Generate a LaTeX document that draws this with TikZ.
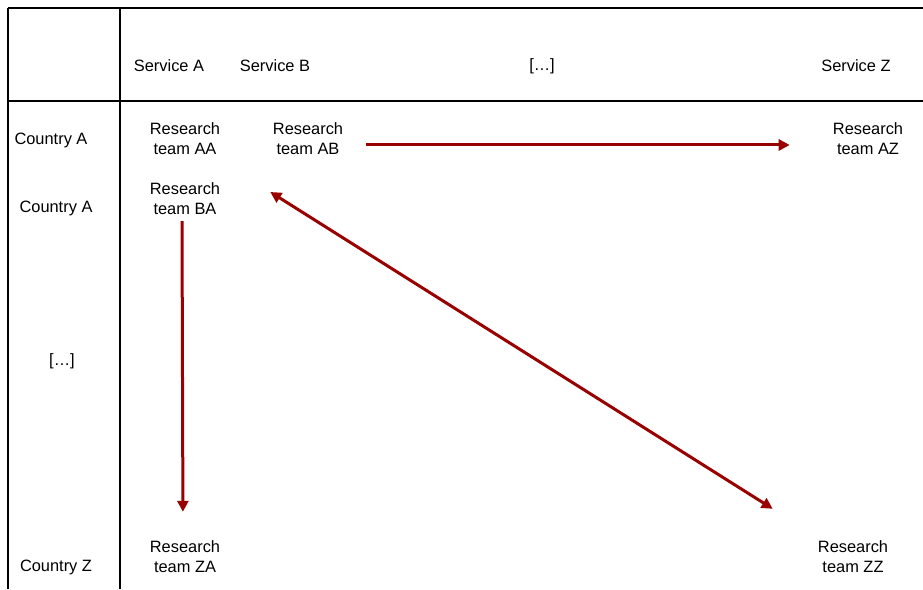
\documentclass[tikz,border=0pt]{standalone}
\usepackage{fontspec}
\setmainfont{Liberation Sans}
\usetikzlibrary{positioning, arrows.meta}
\definecolor{rossoscuro}{HTML}{990000}
\tikzset{
  griglia/.style = {line width=1.1pt, black},
  bordo/.style   = {line width=2pt, black},
  testa/.style   = {font=\fontsize{16.4}{20}\selectfont, inner sep=3pt},
  team/.style    = {font=\fontsize{16.4}{20}\selectfont, align=center, inner sep=3pt},
  freccia/.style = {line width=3pt, rossoscuro, -{Triangle[length=11pt,width=11pt]}},
  doppia/.style  = {line width=3pt, rossoscuro, {Triangle[length=11pt,width=11pt]}-{Triangle[length=11pt,width=11pt]}}
}

\begin{document}
\begin{tikzpicture}[x=1pt, y=1pt]

  \useasboundingbox (0,0) rectangle (923,589);

  % ---------- griglia ----------
  \draw[bordo]   (8,0) -- (8,581);
  \draw[griglia] (8,581) -- (923,581);
  \draw[griglia] (8,488) -- (923,488);
  \draw[griglia] (120,0) -- (120,581);

  % ---------- intestazioni colonne ----------
  \node[testa] (sA)  at (169,523) {Service A};
  \node[testa] (sB)  at (275,523) {Service B};
  \node[testa] (sdots) at (542,523) {[\dots]};
  \node[testa] (sZ)  at (856,523) {Service Z};

  % ---------- intestazioni righe ----------
  \node[testa] (cA)  at (51,449) {Country A};
  \node[testa] (cB)  at (56,381) {Country A};
  \node[testa] (cdots) at (62,228) {[\dots]};
  \node[testa] (cZ)  at (56,22)  {Country Z};

  % ---------- team ----------
  \node[team] (AA) at (185,450) {Research\\team AA};
  \node[team] (AB) at (308,450) {Research\\team AB};
  \node[team] (AZ) at (868,450) {Research\\team AZ};
  \node[team] (BA) at (185,390) {Research\\team BA};
  \node[team] (ZA) at (185,32)  {Research\\team ZA};
  \node[team] (ZZ) at (853,32)  {Research\\team ZZ};

  % ---------- collegamenti ----------
  \draw[freccia, shorten <=20pt, shorten >=40pt] ([yshift=-6pt]AB.east) -- ([yshift=-6pt]AZ.west);
  \draw[freccia, shorten <=3pt, shorten >=26pt] ([xshift=-3pt]BA.south) -- ([xshift=-2pt]ZA.north);
  \draw[doppia] ([shift={(47pt,7pt)}]BA.east) -- ([shift={(-42pt,29pt)}]ZZ.north west);

\end{tikzpicture}
\end{document}
